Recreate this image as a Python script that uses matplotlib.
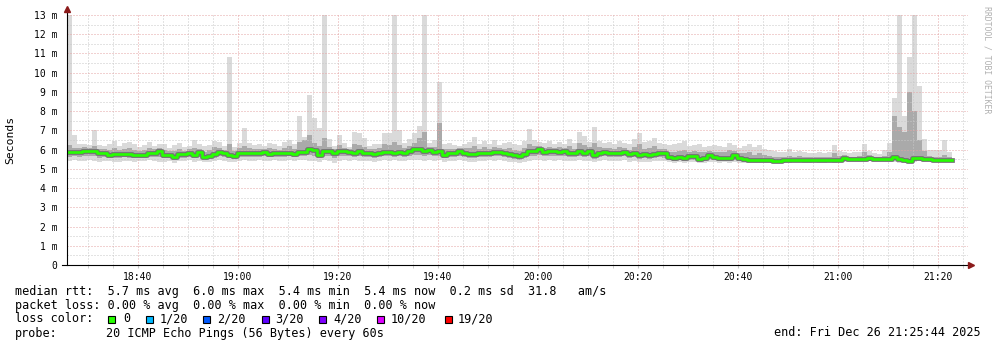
import numpy as np
import matplotlib.pyplot as plt
from matplotlib.patches import Rectangle

plt.rcParams['font.family'] = ['DejaVu Sans Mono', 'DejaVu Sans']

W, H = 997, 347

# one sample per minute, time in minutes after 18:00
t_first = 25.8

median_ms = [
    5.90, 5.90, 5.90, 5.95, 5.95, 5.95, 5.85, 5.85, 5.70, 5.78,
    5.78, 5.75, 5.75, 5.72, 5.70, 5.70, 5.82, 5.82, 5.95, 5.70,
    5.70, 5.62, 5.75, 5.75, 5.82, 5.70, 5.90, 5.62, 5.65, 5.75,
    5.90, 5.82, 5.72, 5.65, 5.80, 5.82, 5.85, 5.82, 5.82, 5.90,
    5.75, 5.82, 5.82, 5.85, 5.85, 5.78, 5.90, 5.90, 6.02, 6.00,
    5.70, 5.93, 5.93, 5.85, 5.93, 5.95, 5.90, 5.85, 5.93, 5.85,
    5.82, 5.78, 5.85, 5.90, 5.90, 5.85, 5.90, 5.85, 5.93, 6.03,
    6.03, 5.95, 6.00, 5.90, 5.93, 5.70, 5.85, 5.85, 5.93, 5.85,
    5.78, 5.75, 5.85, 5.85, 5.82, 5.90, 5.90, 5.82, 5.78, 5.72,
    5.65, 5.75, 5.93, 5.95, 6.03, 5.90, 5.95, 5.95, 5.90, 5.95,
    5.85, 5.85, 5.95, 5.85, 5.93, 5.72, 5.85, 5.90, 5.85, 5.85,
    5.85, 5.90, 5.75, 5.82, 5.70, 5.78, 5.70, 5.78, 5.82, 5.82,
    5.62, 5.58, 5.62, 5.58, 5.65, 5.65, 5.51, 5.58, 5.70, 5.62,
    5.58, 5.58, 5.58, 5.70, 5.58, 5.51, 5.48, 5.48, 5.45, 5.48,
    5.48, 5.41, 5.41, 5.45, 5.45, 5.48, 5.48, 5.45, 5.45, 5.48,
    5.45, 5.45, 5.48, 5.45, 5.48, 5.55, 5.50, 5.50, 5.50, 5.50,
    5.58, 5.50, 5.50, 5.50, 5.52, 5.62, 5.50, 5.45, 5.41, 5.55,
    5.58, 5.52, 5.50, 5.48, 5.45, 5.45, 5.45,
]

max_ms = [
    13.2, 6.75, 6.30, 6.30, 6.25, 7.00, 6.25, 6.20, 6.30, 6.45,
    6.20, 6.35, 6.40, 6.30, 6.15, 6.25, 6.40, 6.20, 6.30, 6.30,
    6.10, 6.25, 6.35, 6.15, 6.20, 6.50, 6.30, 6.20, 6.25, 6.45,
    6.40, 6.20, 10.80, 6.15, 6.35, 7.10, 6.35, 6.25, 6.30, 6.20,
    6.35, 6.30, 6.20, 6.40, 6.50, 6.30, 7.75, 6.67, 8.85, 7.65,
    7.14, 13.2, 6.53, 6.19, 6.76, 6.33, 6.15, 6.93, 6.85, 6.60,
    6.20, 6.28, 6.30, 6.89, 6.85, 13.2, 7.00, 6.33, 6.53, 6.89,
    7.23, 13.2, 6.33, 6.50, 9.53, 6.30, 6.35, 6.25, 6.20, 6.30,
    6.40, 6.67, 6.30, 6.45, 6.30, 6.50, 6.25, 6.35, 6.40, 6.30,
    6.25, 6.45, 7.05, 6.50, 6.40, 6.35, 6.45, 6.30, 6.40, 6.30,
    6.55, 6.35, 6.90, 6.70, 6.40, 7.20, 6.45, 6.35, 6.40, 6.30,
    6.45, 6.35, 6.30, 6.55, 6.85, 6.40, 6.45, 6.60, 6.35, 6.30,
    6.25, 6.28, 6.35, 6.45, 6.20, 6.25, 6.30, 6.15, 6.20, 6.25,
    6.20, 6.15, 6.35, 6.25, 6.10, 6.20, 6.30, 6.15, 6.25, 6.05,
    6.00, 5.95, 5.90, 5.90, 6.03, 5.85, 5.93, 5.85, 5.80, 5.80,
    5.85, 5.80, 5.90, 6.25, 5.95, 5.90, 5.80, 5.85, 5.90, 6.28,
    5.95, 5.80, 5.75, 6.00, 6.33, 8.70, 13.2, 7.75, 10.83, 13.2,
    9.30, 6.53, 6.00, 6.00, 6.00, 6.50, 5.90,
]

upper_ms = [
    6.25, 6.10, 6.10, 6.15, 6.10, 6.20, 6.05, 6.05, 6.00, 6.10,
    6.00, 6.05, 6.10, 6.00, 5.95, 6.00, 6.10, 6.05, 6.10, 6.00,
    5.95, 5.95, 6.05, 5.95, 6.05, 6.10, 6.05, 5.90, 6.00, 6.15,
    6.10, 6.00, 6.30, 5.95, 6.10, 6.20, 6.10, 6.05, 6.05, 6.05,
    6.10, 6.05, 6.00, 6.10, 6.20, 6.05, 6.40, 6.50, 6.75, 6.35,
    6.20, 6.60, 6.15, 6.05, 6.25, 6.10, 6.05, 6.30, 6.25, 6.15,
    6.05, 6.05, 6.10, 6.30, 6.25, 6.40, 6.25, 6.10, 6.20, 6.35,
    6.60, 6.90, 6.15, 6.15, 7.40, 6.05, 6.05, 6.05, 6.10, 6.10,
    6.10, 6.20, 6.05, 6.15, 6.05, 6.15, 6.10, 6.05, 6.10, 6.00,
    5.95, 6.10, 6.30, 6.20, 6.20, 6.10, 6.15, 6.10, 6.15, 6.10,
    6.20, 6.05, 6.35, 6.25, 6.15, 6.35, 6.15, 6.10, 6.10, 6.05,
    6.15, 6.10, 6.00, 6.15, 6.30, 6.05, 6.10, 6.20, 6.05, 6.05,
    5.90, 5.90, 5.95, 6.00, 5.90, 5.95, 5.85, 5.85, 5.95, 5.90,
    5.85, 5.85, 6.00, 5.95, 5.80, 5.80, 5.85, 5.70, 5.80, 5.70,
    5.65, 5.60, 5.60, 5.60, 5.65, 5.60, 5.65, 5.60, 5.60, 5.62,
    5.60, 5.60, 5.62, 5.80, 5.65, 5.70, 5.62, 5.62, 5.65, 5.85,
    5.70, 5.60, 5.60, 5.65, 5.85, 7.75, 7.20, 6.90, 9.00, 8.00,
    6.50, 5.95, 5.65, 5.62, 5.60, 5.70, 5.60,
]

lower_ms = [
    5.60, 5.65, 5.62, 5.65, 5.68, 5.65, 5.58, 5.62, 5.55, 5.55,
    5.58, 5.60, 5.58, 5.55, 5.55, 5.58, 5.62, 5.60, 5.62, 5.55,
    5.55, 5.48, 5.58, 5.58, 5.62, 5.55, 5.62, 5.50, 5.52, 5.58,
    5.65, 5.60, 5.58, 5.52, 5.60, 5.62, 5.62, 5.60, 5.62, 5.65,
    5.60, 5.62, 5.62, 5.62, 5.65, 5.60, 5.65, 5.68, 5.70, 5.68,
    5.55, 5.65, 5.65, 5.55, 5.65, 5.68, 5.65, 5.62, 5.65, 5.62,
    5.60, 5.58, 5.62, 5.65, 5.65, 5.62, 5.65, 5.62, 5.65, 5.72,
    5.72, 5.68, 5.72, 5.65, 5.65, 5.55, 5.62, 5.62, 5.65, 5.62,
    5.58, 5.55, 5.62, 5.62, 5.60, 5.65, 5.65, 5.60, 5.58, 5.52,
    5.48, 5.55, 5.65, 5.68, 5.72, 5.65, 5.68, 5.68, 5.65, 5.68,
    5.62, 5.62, 5.68, 5.62, 5.65, 5.52, 5.62, 5.65, 5.62, 5.62,
    5.62, 5.65, 5.55, 5.60, 5.50, 5.55, 5.50, 5.55, 5.60, 5.58,
    5.45, 5.42, 5.45, 5.42, 5.48, 5.48, 5.38, 5.42, 5.50, 5.45,
    5.42, 5.42, 5.42, 5.50, 5.42, 5.38, 5.38, 5.38, 5.35, 5.38,
    5.38, 5.35, 5.35, 5.38, 5.38, 5.40, 5.40, 5.38, 5.38, 5.40,
    5.38, 5.38, 5.40, 5.38, 5.40, 5.45, 5.42, 5.42, 5.42, 5.42,
    5.45, 5.42, 5.42, 5.42, 5.42, 5.45, 5.40, 5.38, 5.35, 5.42,
    5.45, 5.42, 5.42, 5.40, 5.40, 5.40, 5.42,
]

min_ms = [
    5.40, 5.45, 5.42, 5.40, 5.45, 5.42, 5.38, 5.42, 5.40, 5.35,
    5.38, 5.42, 5.40, 5.35, 5.40, 5.42, 5.45, 5.40, 5.38, 5.35,
    5.40, 5.32, 5.42, 5.40, 5.45, 5.38, 5.42, 5.35, 5.38, 5.40,
    5.45, 5.42, 5.38, 5.35, 5.40, 5.45, 5.42, 5.40, 5.45, 5.42,
    5.40, 5.45, 5.42, 5.40, 5.45, 5.42, 5.45, 5.48, 5.40, 5.42,
    5.35, 5.45, 5.42, 5.30, 5.40, 5.45, 5.42, 5.45, 5.40, 5.42,
    5.40, 5.35, 5.42, 5.45, 5.40, 5.45, 5.42, 5.40, 5.45, 5.48,
    5.45, 5.42, 5.48, 5.40, 5.45, 5.35, 5.40, 5.42, 5.45, 5.40,
    5.38, 5.35, 5.42, 5.40, 5.45, 5.42, 5.45, 5.40, 5.38, 5.35,
    5.32, 5.38, 5.42, 5.45, 5.48, 5.42, 5.45, 5.42, 5.45, 5.42,
    5.40, 5.42, 5.45, 5.40, 5.42, 5.35, 5.40, 5.45, 5.42, 5.40,
    5.42, 5.45, 5.38, 5.40, 5.35, 5.38, 5.35, 5.40, 5.42, 5.40,
    5.35, 5.32, 5.35, 5.32, 5.38, 5.35, 5.30, 5.32, 5.38, 5.35,
    5.32, 5.35, 5.32, 5.38, 5.32, 5.30, 5.32, 5.30, 5.28, 5.32,
    5.32, 5.30, 5.30, 5.32, 5.32, 5.35, 5.35, 5.32, 5.32, 5.35,
    5.32, 5.32, 5.35, 5.32, 5.35, 5.38, 5.35, 5.35, 5.38, 5.35,
    5.40, 5.35, 5.35, 5.38, 5.35, 5.35, 5.30, 5.32, 5.30, 5.38,
    5.40, 5.38, 5.38, 5.35, 5.35, 5.35, 5.38,
]

time_ticks = [40, 60, 80, 100, 120, 140, 160, 180, 200]
time_labels = ['18:40', '19:00', '19:20', '19:40', '20:00', '20:20', '20:40', '21:00', '21:20']
y_ticks = list(range(14))
y_labels = ['0'] + ['%d m' % v for v in y_ticks[1:]]

legend_lines = [
    'median rtt:  5.7 ms avg  6.0 ms max  5.4 ms min  5.4 ms now  0.2 ms sd  31.8   am/s',
    'packet loss: 0.00 % avg  0.00 % max  0.00 % min  0.00 % now',
]
loss_labels = ['0', '1/20', '2/20', '3/20', '4/20', '10/20', '19/20']
loss_colors = ['#26ff00', '#00b8ff', '#0059ff', '#5e00ff', '#7e00ff', '#dd00ff', '#ff0000']
probe_text = '20 ICMP Echo Pings (56 Bytes) every 60s'
end_text = 'end: Fri Dec 26 21:25:44 2025'


def fx(x):
    return x / W


def fy(y):
    return 1 - y / H


def ext(a):
    a = np.asarray(a, dtype=float)
    return np.append(a, a[-1])


fig = plt.figure(figsize=(W / 100, H / 100), dpi=100)
fig.patch.set_facecolor('white')
ax = fig.add_axes([fx(67), fy(265), (968 - 67) / W, 250 / H])

n = len(median_ms)
edges = t_first + np.arange(n + 1)

# smoke
ax.fill_between(edges, ext(min_ms), ext(max_ms), step='post', color='#dadada', lw=0, zorder=1)
ax.fill_between(edges, ext(lower_ms), ext(upper_ms), step='post', color='#aaaaaa', lw=0, zorder=2)
ax.step(edges, ext(median_ms), where='post', color='#707070', lw=3.4, zorder=3)
# median rtt, coloured by loss (0 loss all the way)
ax.step(edges, ext(median_ms), where='post', color=loss_colors[0], lw=1.9, zorder=4)

ax.set_xlim(25.8, 206.0)
ax.set_ylim(0, 13)

ax.set_xticks(time_ticks)
ax.set_xticklabels(time_labels)
ax.set_xticks([m for m in range(30, 206, 5) if m % 20], minor=True)
ax.set_yticks(y_ticks)
ax.set_yticklabels(y_labels)
ax.set_yticks(np.arange(0.5, 13, 1), minor=True)

ax.grid(which='minor', color='#c8c8c8', ls=(0, (1, 2)), lw=0.72, zorder=5)
ax.grid(which='major', color='#e4a4a4', ls=(0, (1, 2)), lw=0.72, zorder=5)
ax.set_axisbelow(False)

ax.tick_params(axis='x', which='both', length=2, color='#c8c8c8', labelsize=7, pad=3)
ax.tick_params(axis='y', which='both', length=0, labelsize=7, pad=7)

for s in ax.spines.values():
    s.set_visible(False)

# axes with arrows
arrow_col = '#8b1a1a'
ax.plot([24.8, 206.4], [0, 0], color='black', lw=0.8, clip_on=False, zorder=6)
ax.plot([25.8, 25.8], [0, 13.25], color='black', lw=0.8, clip_on=False, zorder=6)
ax.plot([206.5], [0], marker='>', ms=4.5, color=arrow_col, mec=arrow_col, clip_on=False, zorder=7)
ax.plot([25.8], [13.3], marker='^', ms=4.5, color=arrow_col, mec=arrow_col, clip_on=False, zorder=7)

fig.text(fx(10), fy(140), 'Seconds', rotation=90, ha='center', va='center', fontsize=8.2)
fig.text(fx(987), fy(60), 'RRDTOOL / TOBI OETIKER', rotation=270, ha='center', va='center',
         fontsize=5.9, color='#b0b0b0')

# legend
fs = 8.5
fig.text(fx(15), fy(291.5), legend_lines[0], ha='left', va='center', fontsize=fs)
fig.text(fx(15), fy(305), legend_lines[1], ha='left', va='center', fontsize=fs)
fig.text(fx(15), fy(319), 'loss color:', ha='left', va='center', fontsize=fs)
box_x = [108, 146, 203, 262, 319, 377, 445]
lab_x = [123, 160, 217, 275, 333, 391, 458]
for bx, lx, lab, col in zip(box_x, lab_x, loss_labels, loss_colors):
    fig.add_artist(Rectangle((fx(bx), fy(322.5)), 7 / W, 7 / H, transform=fig.transFigure,
                             facecolor=col, edgecolor='black', lw=0.8))
    fig.text(fx(lx), fy(319), lab, ha='left', va='center', fontsize=fs)
fig.text(fx(15), fy(333), 'probe:', ha='left', va='center', fontsize=fs)
fig.text(fx(106), fy(333), probe_text, ha='left', va='center', fontsize=fs)
fig.text(fx(981), fy(333), end_text, ha='right', va='center', fontsize=fs)

fig.savefig('out.png', dpi=100)
